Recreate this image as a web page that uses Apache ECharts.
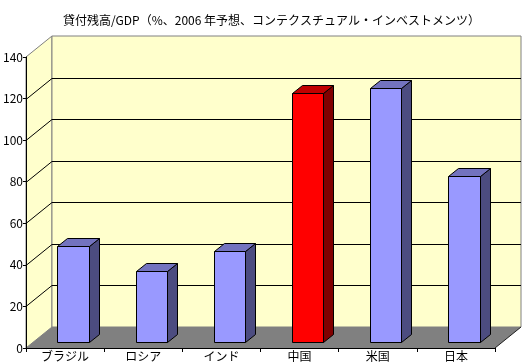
<!DOCTYPE html>
<html><head><meta charset="utf-8">
<script src="https://cdn.jsdelivr.net/npm/echarts@6/dist/echarts.min.js"></script>
<style>html,body{margin:0;padding:0;background:#fff}#c{width:526px;height:363px}</style>
</head><body><div id="c"></div>
<script>
const titleText = '貸付残高/GDP（%、2006 年予想、コンテクスチュアル・インベストメンツ）';
const categories = ['ブラジル', 'ロシア', 'インド', '中国', '米国', '日本'];
const values = [46, 34, 44, 120, 122, 80];
const highlight = [false, false, false, true, false, false];
const yTicks = [0, 20, 40, 60, 80, 100, 120, 140];

const FONT = '"Noto Sans CJK JP", sans-serif';
const DX = 26, DY = -21;     // wall depth
const BX = 8, BY = -6;       // bar depth offset
const SX = 10, SY = -8;      // bar side depth

const chart = echarts.init(document.getElementById('c'));

function wallsRender(params, api) {
  const cs = params.coordSys;
  const gx = cs.x, gy = cs.y, gw = cs.width, gh = cs.height;
  const children = [];
  children.push({type: 'polygon', shape: {points: [[gx, gy], [gx + DX, gy + DY], [gx + DX, gy + gh + DY], [gx, gy + gh]]},
    style: {fill: '#FFFFCC', stroke: '#808080', lineWidth: 1}});
  children.push({type: 'rect', shape: {x: gx + DX, y: gy + DY, width: gw, height: gh},
    style: {fill: '#FFFFCC', stroke: '#808080', lineWidth: 1}});
  children.push({type: 'polygon', shape: {points: [[gx, gy + gh], [gx + gw, gy + gh], [gx + gw + DX, gy + gh + DY], [gx + DX, gy + gh + DY]]},
    style: {fill: '#808080'}});
  children.push({type: 'line', shape: {x1: gx + gw, y1: gy + gh, x2: gx + gw + DX, y2: gy + gh + DY},
    style: {stroke: '#202020', lineWidth: 1}});
  const maxV = yTicks[yTicks.length - 1];
  yTicks.forEach(function (v) {
    if (v === 0 || v === maxV) return;
    const y = Math.round(api.coord([0, v])[1]) + 0.5;
    children.push({type: 'line', shape: {x1: gx + DX, y1: y + DY, x2: gx + gw + DX, y2: y + DY}, style: {stroke: '#000', lineWidth: 1}});
    children.push({type: 'line', shape: {x1: gx, y1: y, x2: gx + DX, y2: y + DY}, style: {stroke: '#000', lineWidth: 1}});
  });
  return {type: 'group', children: children};
}

function barRender(params, api) {
  const idx = api.value(0);
  const v = api.value(1);
  const top = api.coord([idx, v]);
  const base = api.coord([idx, 0]);
  const w = api.size([1, 0])[0] * 0.4;
  const xl = Math.round(top[0] + BX - w / 2) + 0.5;
  const xr = Math.round(top[0] + BX + w / 2) + 0.5;
  const yt = Math.round(top[1] + BY) + 0.5;
  const yb = Math.round(base[1] + BY) + 0.5;
  const red = highlight[params.dataIndex];
  const cFront = red ? '#FF0000' : '#9999FF';
  const cTop = red ? '#C00000' : '#7373BF';
  const cSide = red ? '#800000' : '#4C4C80';
  const st = {stroke: '#000', lineWidth: 1};
  return {type: 'group', children: [
    {type: 'polygon', shape: {points: [[xr, yt], [xr + SX, yt + SY], [xr + SX, yb + SY], [xr, yb]]}, style: Object.assign({fill: cSide}, st)},
    {type: 'polygon', shape: {points: [[xl, yt], [xr, yt], [xr + SX, yt + SY], [xl + SX, yt + SY]]}, style: Object.assign({fill: cTop}, st)},
    {type: 'rect', shape: {x: xl, y: yt, width: xr - xl, height: yb - yt}, style: Object.assign({fill: cFront}, st)}
  ]};
}

chart.setOption({
  backgroundColor: '#fff',
  animation: false,
  title: {text: titleText, left: 58, top: 9,
    textStyle: {fontFamily: FONT, fontSize: 12, fontWeight: 'normal', color: '#000'}},
  grid: {left: 23, right: 31, top: 57, bottom: 15},
  xAxis: {type: 'category', data: categories, boundaryGap: true,
    axisLine: {lineStyle: {color: '#000', width: 1}},
    axisTick: {show: true, length: 4, lineStyle: {color: '#000'}},
    axisLabel: {color: '#000', fontFamily: FONT, fontSize: 12, margin: 2, interval: 0},
    splitLine: {show: false}},
  yAxis: {type: 'value', min: 0, max: yTicks[yTicks.length - 1], interval: 20,
    axisLine: {show: true, lineStyle: {color: '#000', width: 1}},
    axisTick: {show: true, length: 3, lineStyle: {color: '#000'}},
    axisLabel: {color: '#000', fontFamily: FONT, fontSize: 12, margin: 3},
    splitLine: {show: false}},
  series: [
    {type: 'custom', z: -1, silent: true, renderItem: wallsRender, data: [[0, 0]], clip: false},
    {type: 'custom', z: 3, renderItem: barRender, clip: false,
      data: values.map(function (v, i) { return [i, v]; })}
  ]
});
</script>
</body></html>
